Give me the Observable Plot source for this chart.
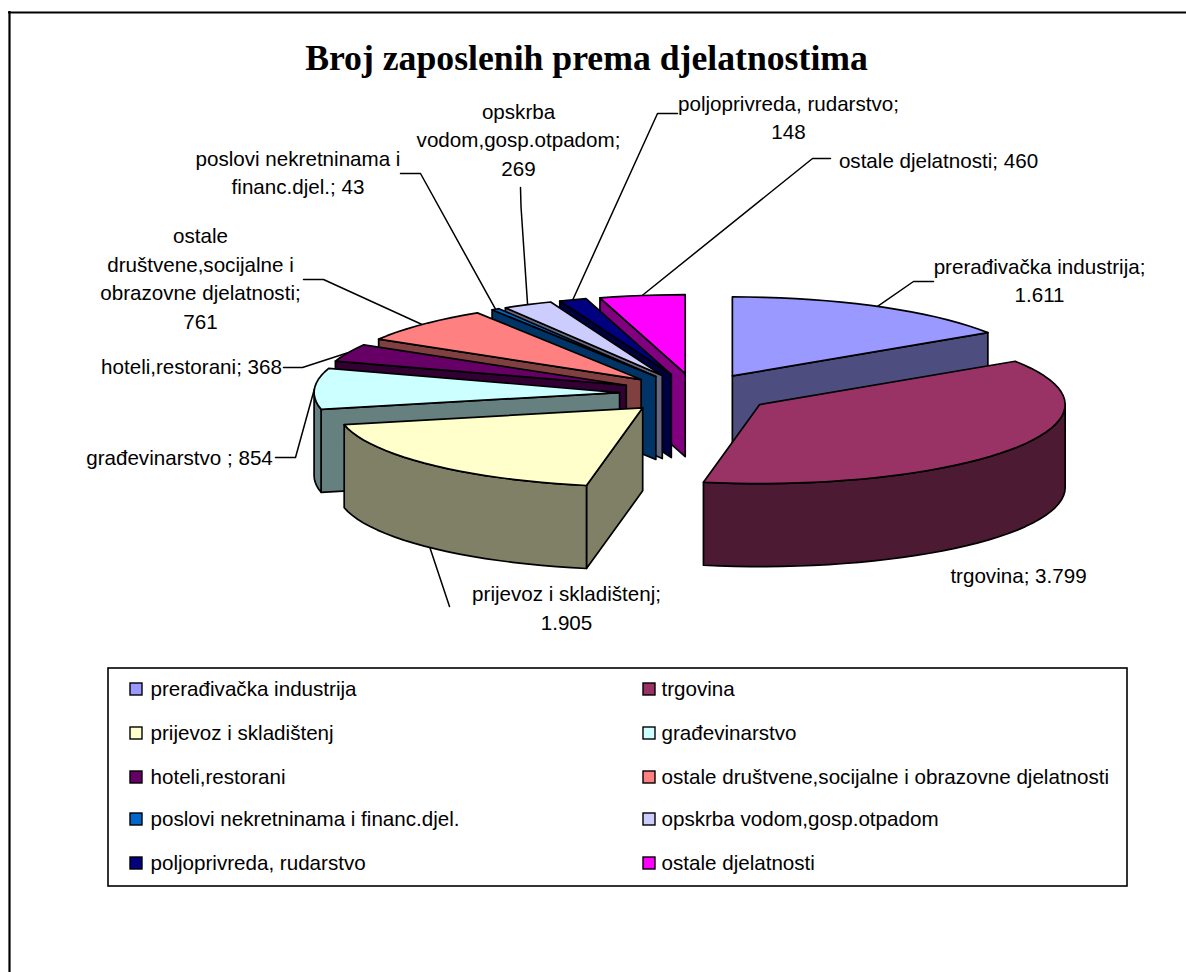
<!DOCTYPE html>
<html><head><meta charset="utf-8">
<script src="https://cdn.jsdelivr.net/npm/d3@7"></script>
<script src="https://cdn.jsdelivr.net/npm/@observablehq/plot@0.6"></script>
<style>html,body{margin:0;padding:0;background:#fff;overflow:hidden}svg{display:block}</style>
</head><body><div id="chart"></div>
<script>
const categories = ["prerađivačka industrija","trgovina","prijevoz i skladištenj","građevinarstvo","hoteli,restorani","ostale društvene,socijalne i obrazovne djelatnosti","poslovi nekretninama i financ.djel.","opskrba vodom,gosp.otpadom","poljoprivreda, rudarstvo","ostale djelatnosti"];
const values = [1611,3799,1905,854,368,761,43,269,148,460];
const topColors = ["#9999FF","#993366","#FFFFCC","#CCFFFF","#660066","#FF8080","#0066CC","#CCCCFF","#000080","#FF00FF"];
const sideColors = ["#4D4D80","#4D1A33","#808066","#668080","#330033","#804040","#003366","#666680","#000040","#800080"];
const labelPrefixes = ["prerađivačka industrija;\n","trgovina; ","prijevoz i skladištenj;\n","građevinarstvo ; ","hoteli,restorani; ","ostale\ndruštvene,socijalne i\nobrazovne djelatnosti;\n","poslovi nekretninama i\nfinanc.djel.; ","opskrba\nvodom,gosp.otpadom;\n","poljoprivreda, rudarstvo;\n","ostale djelatnosti; "];

// layout of the 3D pie on the page
const C = {x: 695.5, y: 393, rx: 305.5, ry: 79, ex: 76.5, ey: 20, h: 83};
const labelX = [1039,1018,566,179,191,200,297.5,518,788,938];
const labelY = [278.5,573.5,606,455.5,364.5,276.5,170.5,137.5,115.5,158.5];
const leaderX0 = [933,null,449,275,283,303,400,520,677,830];
const leaderX1 = [913,null,449,295,302,323,420,520.5,657,812];
const leaderY = [281,null,606,457,367,279,173,187,113,158];
const leaderY1 = [281,null,606,457,367,279,173,206,113,158];

const fmt = d3.formatLocale({decimal:",",thousands:".",grouping:[3],currency:["",""]}).format(",");
const total = d3.sum(values);
const FONT = "'Liberation Sans',Arial,sans-serif";
const rad = d => d * Math.PI / 180;

let cum = 0;
const slices = values.map((v, i) => {
  const s = cum / total * 360; cum += v;
  const e = cum / total * 360, m = (s + e) / 2;
  return {i, s, e, m, ax: C.x + C.ex * Math.sin(rad(m)), ay: C.y - C.ey * Math.cos(rad(m))};
});
const rim = (sl, a, dz = 0) => ({x: sl.ax + C.rx * Math.sin(rad(a)), y: sl.ay - C.ry * Math.cos(rad(a)) + dz});
const arc = (sl, a0, a1, dz = 0) => {
  const n = Math.max(2, Math.ceil(Math.abs(a1 - a0) / 3));
  return d3.range(n + 1).map(k => rim(sl, a0 + (a1 - a0) * k / n, dz));
};

const faces = [];
const addFace = (id, color, pts) => pts.forEach(p => faces.push({face: id, color, x: p.x, y: p.y}));
// back slices first (last to third), then the two right-hand ones
[9,8,7,6,5,4,3,2,0,1].map(i => slices[i]).forEach(sl => {
  const apex = {x: sl.ax, y: sl.ay}, apexB = {x: sl.ax, y: sl.ay + C.h};
  const side = sideColors[sl.i];
  if (sl.e < 180) { const r = rim(sl, sl.e), rb = rim(sl, sl.e, C.h);
    addFace(`end${sl.i}`, side, [apex, r, rb, apexB]); }
  if (sl.s > 180) { const r = rim(sl, sl.s), rb = rim(sl, sl.s, C.h);
    addFace(`start${sl.i}`, side, [apex, r, rb, apexB]); }
  const a0 = Math.max(sl.s, 90), a1 = Math.min(sl.e, 270);
  if (a1 > a0) addFace(`rim${sl.i}`, side, [...arc(sl, a0, a1), ...arc(sl, a1, a0, C.h)]);
  addFace(`top${sl.i}`, topColors[sl.i], [apex, ...arc(sl, sl.s, sl.e)]);
});

const leaders = [];
slices.forEach(sl => {
  if (leaderX0[sl.i] == null) return;
  const i = sl.i, dz = (sl.m > 90 && sl.m < 270) ? C.h : 0;
  const end = rim(sl, sl.m, dz);
  if (i === 2) {
    leaders.push({k:i,x:leaderX0[i],y:leaderY[i]},{k:i,x:end.x,y:end.y});
  } else {
    leaders.push({k:i,x:leaderX0[i],y:leaderY[i]},{k:i,x:leaderX1[i],y:leaderY1[i]},{k:i,x:end.x,y:end.y});
  }
});

const labels = values.map((v,i) => ({text: labelPrefixes[i] + fmt(v), x: labelX[i], y: labelY[i]}));

// legend rows: two columns
const legendRowY = [689,733,777,819,863];
const legendColX = [130,643];
const legendTextX = [150,661];
const legend = categories.map((c,i) => ({name:c, color: topColors[i], x: legendColX[i%2], tx: legendTextX[i%2], y: legendRowY[Math.floor(i/2)]}));

const plot = Plot.plot({
  width: 1186, height: 972, margin: 0,
  x: {domain:[0,1186], range:[0,1186], axis:null},
  y: {domain:[0,972], range:[0,972], axis:null},
  marks: [
    Plot.ruleY([12], {x1:8,x2:1186,stroke:"black",strokeWidth:2.2}),
    Plot.ruleX([9], {y1:11,y2:972,stroke:"black",strokeWidth:2.2}),
    Plot.text(["Broj zaposlenih prema djelatnostima"], {x:586,y:58,text:d=>d,fontFamily:"'Liberation Serif','Times New Roman',serif",fontWeight:"bold",fontSize:35.7,fill:"black"}),
    Plot.line(leaders, {x:"x",y:"y",z:"k",stroke:"black",strokeWidth:1.5,curve:"linear"}),
    Plot.line(faces, {x:"x",y:"y",z:"face",fill:"color",stroke:"black",strokeWidth:1.7,strokeLinejoin:"round",curve:"linear-closed"}),
    Plot.text(labels, {x:"x",y:"y",text:"text",fontFamily:FONT,fontSize:20.6,lineHeight:1.39,fill:"black",textAnchor:"middle"}),
    Plot.rect([{x1:108,x2:1127,y1:668,y2:886}], {x1:"x1",x2:"x2",y1:"y1",y2:"y2",fill:"none",stroke:"black",strokeWidth:1.6}),
    Plot.rect(legend, {x1:"x",x2:d=>d.x+12,y1:d=>d.y-6,y2:d=>d.y+6,fill:"color",stroke:"black",strokeWidth:1.4}),
    Plot.text(legend, {x:"tx",y:"y",text:"name",textAnchor:"start",fontFamily:FONT,fontSize:20.6,fill:"black"})
  ]
});
document.getElementById("chart").append(plot);
</script></body></html>
